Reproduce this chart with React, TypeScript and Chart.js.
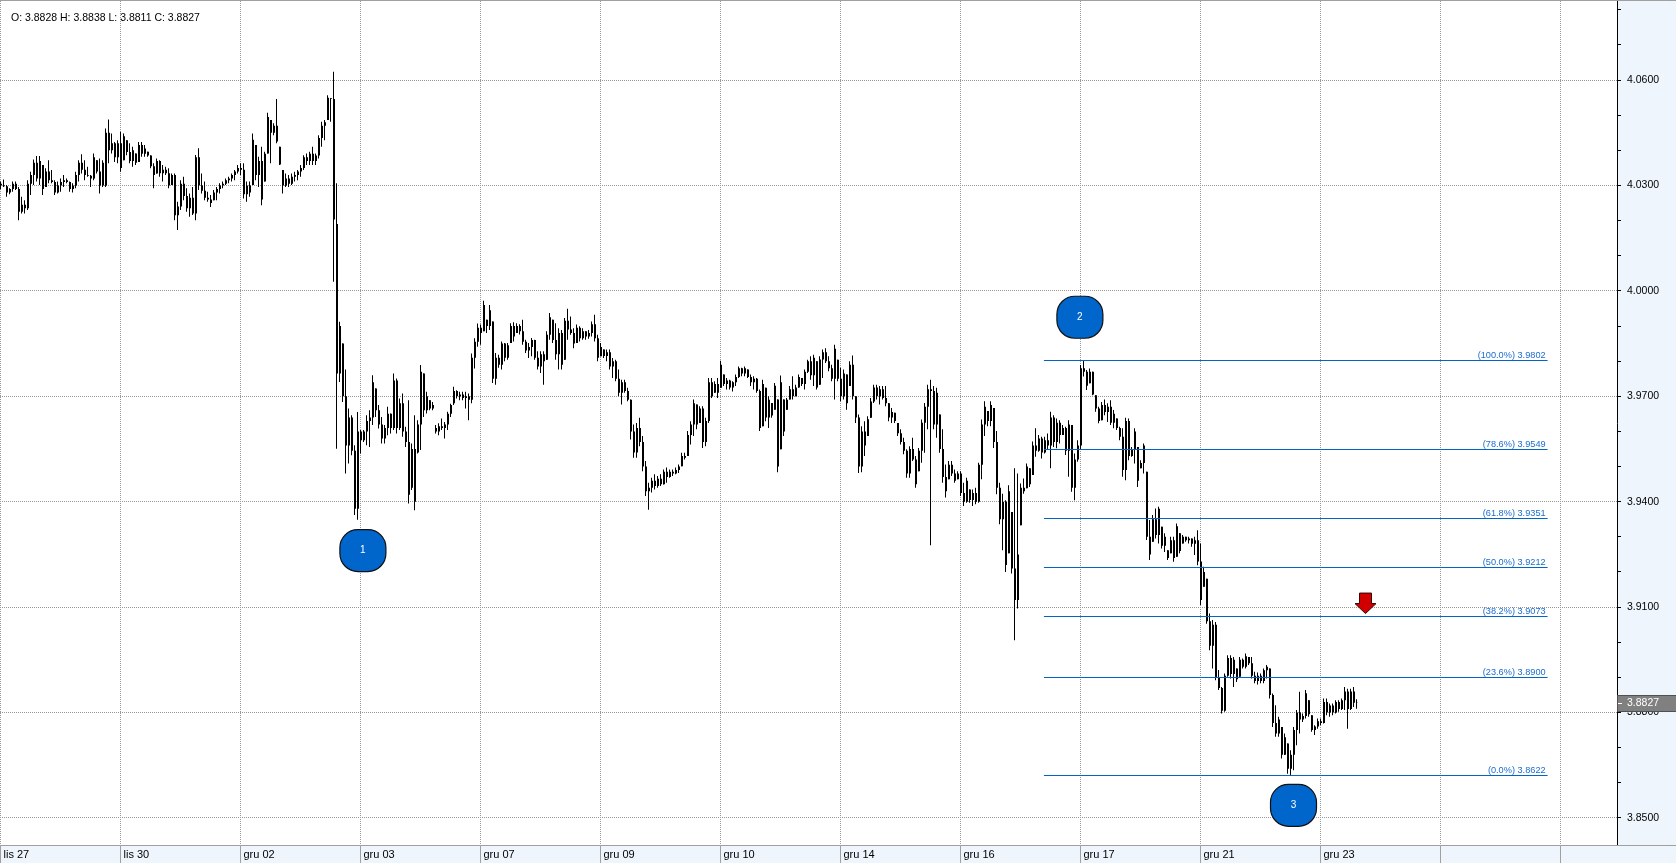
import React, { useEffect, useRef } from 'react';
import { Chart, registerables } from 'chart.js';

Chart.register(...registerables);

// ---------- DATA (prices as pips above 3.8000) ----------
const BASE_PRICE = 3.8;
const PIP = 0.0001;

const highPips = [
  2311,2317,2301,2292,2311,2311,2296,2268,2258,2315,
  2339,2374,2384,2384,2358,2349,2372,2344,2315,2311,
  2320,2330,2320,2311,2306,2339,2372,2389,2372,2353,
  2330,2391,2372,2377,2372,2462,2488,2448,2424,2429,
  2453,2448,2429,2420,2410,2391,2424,2424,2415,2396,
  2386,2363,2377,2372,2358,2353,2349,2334,2334,2254,
  2315,2325,2292,2277,2296,2387,2406,2334,2311,2282,
  2273,2287,2296,2306,2311,2320,2325,2334,2344,2358,
  2363,2363,2311,2311,2448,2415,2382,2410,2396,2507,
  2486,2477,2546,2410,2344,2334,2330,2334,2339,2344,
  2358,2386,2391,2396,2410,2391,2443,2481,2486,2557,
  2548,2624,
  2306,1912,1850,1776,1665,1646,1561,1655,1604,1604,
  1646,1660,1760,1722,1675,1641,1618,1670,1651,1765,
  1751,1694,1708,1613,1689,1566,1646,1632,1789,1765,
  1713,1689,1684,1618,1623,1637,1627,1656,1679,1727,
  1717,1713,1713,1713,1708,1822,1865,1907,
  1904,1972,1918,1960,1913,1823,1818,1856,1852,1852,
  1908,1911,1908,1905,1918,1861,1852,1866,1861,1828,
  1828,1828,1885,1937,1918,1908,1894,1889,1923,1949,
  1927,1894,1904,1899,1894,1885,1889,1913,1932,1875,
  1852,1833,1833,1833,1809,1804,1776,1747,1747,1724,
  1691,1620,1624,1639,1587,1516,1454,1468,1478,1473,
  1478,1492,1497,1492,1492,1497,1506,1539,1539,1601,
  1629,1691,1677,1672,1672,1639,1752,1752,1743,1752,
  1801,1762,1752,1747,1743,1762,1785,1781,1785,1776,
  1762,1757,1752,1719,1747,1724,1700,1681,1738,1691,
  1759,1691,1695,1729,1757,1733,1762,1752,1776,1804,
  1814,1818,1800,1814,1833,1837,1814,1790,1847,1804,
  1781,1776,1762,1800,1816,1700,1648,1615,1629,1643,
  1695,1733,1733,1729,1729,1729,1681,1667,1653,1624,
  1606,1582,1549,1558,1582,1530,1553,1634,1681,1733,
  1747,1729,1724,1648,1606,1506,1516,1516,1492,1487,
  1487,1454,1468,1435,1435,1440,1511,1634,1686,1658,
  1686,1667,1601,1454,
  1423,1404,1447,1371,1495,1480,1452,1466,1509,1495,
  1571,1609,1590,1585,1585,1594,1656,1646,1637,1632,
  1618,1613,1632,1618,1537,1575,1789,1803,1775,1779,
  1770,1703,1670,1684,1691,1680,1689,1661,1637,1613,
  1609,1639,1637,1556,1609,1556,1518,1566,1485,1348,
  1362,1381,1386,1329,1310,1262,1300,1300,1338,1310,
  1305,1300,1300,1295,1300,1319,1281,1215,1181,1082,
  1063,1058,921,873,911,963,963,958,925,958,
  954,968,958,958,916,914,911,925,935,925,
  854,821,788,759,740,712,693,759,807,859,
  797,864,835,792,764,783,783,840,840,826,
  826,835,835,840,873,868,868,873,838,
];

const lowPips = [
  2289,2296,2268,2275,2282,2287,2201,2220,2220,2230,
  2273,2301,2311,2301,2273,2296,2306,2306,2273,2277,
  2282,2296,2306,2282,2280,2292,2311,2334,2315,2325,
  2296,2315,2334,2277,2296,2296,2363,2391,2367,2363,
  2339,2372,2386,2363,2353,2358,2367,2382,2382,2382,
  2349,2292,2334,2325,2311,2330,2292,2301,2201,2173,
  2230,2258,2225,2211,2216,2201,2287,2277,2258,2254,
  2239,2258,2258,2277,2292,2301,2306,2311,2315,2334,
  2330,2263,2254,2268,2301,2315,2296,2244,2311,2391,
  2363,2443,2420,2358,2277,2296,2296,2301,2311,2315,
  2325,2344,2358,2358,2358,2358,2377,2410,2429,2486,
  2481,2026,
  1551,1741,1684,1480,1509,1532,1362,1349,1537,1570,
  1561,1556,1618,1641,1608,1566,1566,1589,1594,1604,
  1594,1604,1585,1556,1395,1433,1376,1537,1547,1641,
  1651,1660,1660,1594,1589,1604,1580,1604,1641,1675,
  1694,1689,1689,1665,1632,1680,1779,1841,
  1847,1885,1880,1889,1738,1733,1781,1776,1800,1804,
  1852,1856,1880,1876,1847,1823,1809,1814,1804,1776,
  1766,1733,1804,1861,1852,1804,1776,1776,1804,1861,
  1875,1837,1852,1856,1861,1861,1864,1870,1856,1800,
  1814,1809,1800,1776,1752,1743,1700,1677,1710,1686,
  1577,1525,1525,1558,1487,1416,1377,1426,1435,1440,
  1445,1449,1454,1468,1473,1478,1482,1501,1520,1530,
  1563,1587,1606,1624,1553,1558,1624,1695,1710,1695,
  1724,1729,1719,1719,1714,1729,1752,1757,1757,1752,
  1729,1719,1710,1601,1615,1629,1610,1639,1662,1484,
  1549,1587,1662,1691,1691,1700,1724,1729,1719,1766,
  1747,1729,1719,1733,1752,1795,1771,1743,1691,1743,
  1686,1691,1662,1729,1691,1624,1482,1484,1530,1587,
  1639,1681,1691,1677,1691,1672,1629,1624,1624,1587,
  1563,1535,1468,1468,1516,1440,1487,1511,1539,1606,
  1276,1606,1582,1539,1454,1412,1464,1473,1454,1464,
  1416,1388,1397,1397,1388,1393,1397,1464,1587,1615,
  1615,1553,1421,1336,
  1262,1200,1253,1196,1006,1096,1333,1423,1438,1442,
  1476,1528,1542,1523,1537,1547,1495,1556,1552,1566,
  1590,1533,1471,1428,1404,1514,1547,1756,1718,1737,
  1703,1656,1623,1632,1646,1627,1618,1609,1604,1575,
  1471,1461,1518,1528,1509,1442,1495,1480,1291,1234,
  1286,1295,1281,1267,1257,1234,1253,1229,1243,1253,
  1281,1286,1281,1272,1248,1219,1106,1158,1053,977,
  925,892,864,797,802,902,897,873,887,902,
  925,925,935,897,883,880,883,883,897,840,
  759,731,731,669,679,626,622,636,707,740,
  773,783,788,745,736,754,764,769,792,788,
  792,797,802,807,807,754,807,816,811,
];

const openPips = [
  2305,2300,2298,2280,2290,2305,2290,2225,2245,2235,
  2305,2330,2365,2320,2358,2296,2340,2315,2310,2280,
  2300,2310,2315,2310,2290,2300,2330,2365,2345,2330,
  2328,2320,2372,2340,2300,2300,2450,2400,2420,2380,
  2420,2372,2429,2395,2370,2391,2367,2415,2390,2396,
  2385,2355,2334,2370,2335,2345,2335,2301,2330,2215,
  2240,2305,2270,2235,2265,2220,2380,2300,2285,2265,
  2260,2258,2280,2290,2300,2305,2315,2320,2330,2340,
  2350,2345,2275,2300,2301,2415,2330,2370,2311,2391,
  2486,2450,2470,2410,2344,2300,2320,2305,2325,2330,
  2340,2350,2380,2370,2390,2370,2385,2435,2470,2486,
  2548,2546,
  2190,1765,1850,1700,1560,1640,1545,1380,1600,1575,
  1600,1630,1640,1722,1660,1620,1580,1610,1650,1610,
  1745,1610,1680,1600,1570,1440,1550,1540,1620,1765,
  1660,1689,1665,1610,1600,1615,1610,1620,1650,1680,
  1715,1700,1705,1695,1700,1690,1810,1855,
  1895,1885,1918,1900,1913,1750,1810,1790,1850,1810,
  1852,1900,1880,1900,1885,1855,1830,1840,1860,1810,
  1785,1820,1804,1875,1918,1860,1820,1880,1804,1915,
  1890,1880,1852,1895,1865,1885,1870,1880,1905,1865,
  1814,1833,1815,1825,1785,1800,1750,1710,1740,1715,
  1690,1600,1540,1610,1570,1500,1430,1440,1460,1445,
  1465,1450,1485,1470,1485,1480,1490,1501,1530,1530,
  1590,1620,1677,1624,1665,1570,1630,1740,1710,1735,
  1724,1762,1735,1745,1725,1740,1755,1780,1765,1776,
  1755,1740,1750,1715,1615,1724,1640,1681,1662,1691,
  1549,1691,1662,1691,1720,1700,1725,1752,1735,1770,
  1800,1760,1800,1733,1805,1825,1800,1780,1750,1804,
  1750,1700,1762,1729,1790,1700,1640,1500,1600,1587,
  1639,1685,1725,1700,1720,1695,1680,1640,1653,1624,
  1595,1570,1545,1480,1550,1520,1487,1545,1625,1670,
  1720,1715,1620,1648,1550,1470,1464,1505,1480,1464,
  1480,1425,1400,1435,1405,1425,1400,1505,1620,1658,
  1630,1667,1570,1440,
  1350,1400,1253,1371,1210,1120,1333,1440,1438,1495,
  1476,1560,1545,1580,1540,1575,1560,1640,1570,1625,
  1590,1610,1545,1618,1440,1520,1560,1780,1770,1737,
  1770,1703,1665,1632,1675,1655,1670,1625,1637,1610,
  1585,1490,1630,1530,1550,1556,1495,1510,1485,1300,
  1286,1350,1305,1329,1275,1262,1253,1290,1243,1310,
  1281,1300,1290,1295,1280,1290,1230,1158,1181,1060,
  990,1050,900,870,805,905,955,910,925,902,
  950,930,958,940,905,890,905,890,920,925,
  850,770,740,759,680,712,640,680,750,800,
  780,790,835,792,750,760,775,770,830,800,
  820,800,830,810,835,860,810,860,828,
];

const closePips = [
  2300,2298,2280,2290,2305,2290,2225,2245,2235,2305,
  2330,2365,2320,2370,2290,2340,2315,2310,2280,2300,
  2310,2315,2310,2290,2300,2330,2365,2345,2330,2328,
  2320,2380,2340,2300,2365,2450,2400,2420,2380,2420,
  2350,2440,2395,2370,2400,2365,2415,2390,2405,2385,
  2355,2330,2370,2335,2345,2335,2300,2330,2215,2240,
  2305,2270,2235,2265,2220,2380,2300,2285,2265,2260,
  2250,2280,2290,2300,2305,2315,2320,2330,2340,2350,
  2345,2275,2300,2280,2430,2330,2370,2260,2390,2495,
  2450,2470,2425,2360,2300,2320,2305,2325,2330,2340,
  2350,2380,2370,2390,2370,2385,2435,2470,2480,2550,
  2546,2203,
  1765,1900,1700,1560,1640,1545,1380,1600,1575,1600,
  1630,1640,1740,1660,1620,1580,1610,1650,1610,1745,
  1610,1680,1600,1570,1420,1550,1400,1620,1770,1660,
  1700,1665,1675,1600,1615,1610,1620,1650,1675,1715,
  1700,1705,1695,1700,1690,1810,1855,1895,
  1880,1960,1900,1945,1750,1810,1790,1850,1810,1845,
  1900,1870,1900,1885,1855,1830,1840,1860,1810,1785,
  1820,1800,1875,1925,1860,1820,1880,1790,1915,1890,
  1880,1850,1895,1865,1885,1870,1880,1905,1865,1810,
  1840,1815,1825,1785,1800,1750,1710,1740,1715,1690,
  1600,1540,1610,1570,1500,1430,1440,1460,1445,1465,
  1450,1485,1470,1485,1480,1490,1500,1530,1525,1590,
  1620,1680,1620,1665,1570,1630,1740,1700,1735,1710,
  1790,1735,1745,1725,1740,1755,1780,1765,1780,1755,
  1740,1750,1715,1610,1735,1640,1690,1645,1730,1500,
  1740,1600,1690,1720,1700,1725,1755,1735,1770,1800,
  1760,1810,1725,1805,1825,1800,1780,1750,1835,1750,
  1700,1765,1680,1790,1700,1640,1500,1600,1560,1635,
  1685,1725,1700,1720,1695,1680,1640,1655,1630,1595,
  1570,1545,1480,1550,1520,1450,1545,1625,1670,1720,
  1715,1620,1710,1550,1470,1430,1505,1480,1460,1480,
  1425,1400,1460,1405,1425,1400,1505,1620,1670,1630,
  1675,1570,1440,1350,
  1400,1220,1430,1210,1120,1250,1440,1430,1500,1450,
  1560,1545,1580,1540,1575,1560,1640,1570,1625,1590,
  1610,1545,1620,1440,1520,1560,1780,1770,1730,1770,
  1705,1665,1630,1675,1655,1670,1625,1650,1610,1585,
  1490,1630,1530,1550,1600,1460,1510,1560,1300,1250,
  1350,1305,1380,1275,1300,1240,1290,1240,1330,1260,
  1300,1290,1295,1280,1290,1230,1120,1200,1060,990,
  1050,900,870,805,905,955,910,950,895,950,
  930,960,940,905,890,905,890,920,930,850,
  770,740,780,680,730,640,680,750,800,780,
  790,855,795,750,760,775,770,830,800,820,
  800,830,810,835,860,810,860,828,827,
];

// x-axis date ticks (bar index -> label)
const dateTickBars = [0, 40, 80, 120, 160, 200, 240, 280, 320, 360, 400, 440, 480, 520];
const dateTickLabels = ['lis 27', 'lis 30', 'gru 02', 'gru 03', 'gru 07', 'gru 09', 'gru 10', 'gru 14', 'gru 16', 'gru 17', 'gru 21', 'gru 23', '', ''];

// y-axis ticks
const priceTickValues = [
  3.85, 3.86, 3.87, 3.88, 3.89, 3.90, 3.91, 3.92, 3.93, 3.94, 3.95, 3.96,
  3.97, 3.98, 3.99, 4.00, 4.01, 4.02, 4.03, 4.04, 4.05, 4.06, 4.07, 4.08,
];
const priceLabelValues = [3.85, 3.88, 3.91, 3.94, 3.97, 4.0, 4.03, 4.06];

// Fibonacci retracement
const fibRatios = [100.0, 78.6, 61.8, 50.0, 38.2, 23.6, 0.0];
const fibPrices = [3.9802, 3.9549, 3.9351, 3.9212, 3.9073, 3.89, 3.8622];
const fibStartBar = 347.8;
const fibEndBar = 515.7;

// Wave markers
const markerLabels = ['1', '2', '3'];
const markerBars = [120.8, 359.8, 431.0];
const markerPrices = [3.9261, 3.9925, 3.8536];

// Sell arrow
const arrowBar = 455.0;
const arrowPrice = 3.914;

// ---------- LAYOUT / STYLE ----------
const CANVAS_W = 1676;
const CANVAS_H = 863;
const AXIS_W = 59;
const AXIS_H = 18;
const X_MIN = -1 / 6;
const X_MAX = X_MIN + (CANVAS_W - AXIS_W) / 3;
const Y_MAX = 4.0825;
const Y_MIN = 3.8423;
const BODY_SHIFT = 1 / 6;
const AXIS_BG = '#eef5fd';
const GRID_COLOR = '#9a9a9a';
const FIB_LINE = '#0064c8';
const FIB_TEXT = '#1a6ccf';
const FONT = 'Liberation Sans, Arial, sans-serif';

const toPrice = (p: number) => Math.round((BASE_PRICE + p * PIP) * 10000) / 10000;
const isMajor = (v: number) => priceLabelValues.some((m) => Math.abs(m - v) < 1e-6);

function roundedRectPath(ctx: CanvasRenderingContext2D, x: number, y: number, w: number, h: number, r: number) {
  ctx.beginPath();
  ctx.moveTo(x + r, y);
  ctx.arcTo(x + w, y, x + w, y + h, r);
  ctx.arcTo(x + w, y + h, x, y + h, r);
  ctx.arcTo(x, y + h, x, y, r);
  ctx.arcTo(x, y, x + w, y, r);
  ctx.closePath();
}

export default function App() {
  const canvasRef = useRef<HTMLCanvasElement>(null);

  useEffect(() => {
    document.body.style.margin = '0';
    document.body.style.overflow = 'hidden';
    const canvas = canvasRef.current;
    if (!canvas) return;

    const highs = highPips.map(toPrice);
    const lows = lowPips.map(toPrice);
    const opens = openPips.map(toPrice);
    const closes = closePips.map(toPrice);
    const last = closes.length - 1;

    const wickData = highs.map((h, i) => ({ x: i, y: [lows[i], h] }));
    const bodyData = opens.map((o, i) => ({
      x: i + BODY_SHIFT,
      y: [Math.min(o, closes[i]), Math.max(o, closes[i])],
    }));

    const fibDatasets = fibPrices.map((p) => ({
      type: 'line' as const,
      data: [
        { x: fibStartBar, y: p },
        { x: fibEndBar, y: p },
      ],
      borderColor: FIB_LINE,
      borderWidth: 1,
      pointRadius: 0,
      tension: 0,
      fill: false,
      order: 0,
      isFib: true,
      fibPrice: p,
    }));

    // snap horizontal fib lines onto pixel centres so they stay crisp
    const crispPlugin = {
      id: 'crispFib',
      beforeDatasetDraw(chart: any, args: any) {
        const ds = chart.data.datasets[args.index];
        chart.ctx.save();
        if (ds && ds.isFib) {
          const y = chart.scales.y.getPixelForValue(ds.fibPrice);
          const target = Math.floor(y) + 0.5;
          chart.ctx.translate(0, target - y);
        }
      },
      afterDatasetDraw(chart: any) {
        chart.ctx.restore();
      },
    };

    const decorPlugin = {
      id: 'decor',
      beforeDraw(chart: any) {
        const { ctx, chartArea: a, width, height } = chart;
        ctx.save();
        ctx.fillStyle = AXIS_BG;
        ctx.fillRect(0, 0, width, height);
        ctx.fillStyle = '#ffffff';
        ctx.fillRect(a.left, 0, a.right - a.left, a.bottom);
        ctx.restore();
      },
      afterDatasetsDraw(chart: any) {
        const { ctx } = chart;
        const xs = chart.scales.x;
        const ys = chart.scales.y;
        ctx.save();
        // fib labels
        ctx.font = `9.2px ${FONT}`;
        ctx.fillStyle = FIB_TEXT;
        ctx.textAlign = 'right';
        ctx.textBaseline = 'alphabetic';
        const xEnd = xs.getPixelForValue(fibEndBar) - 2;
        fibPrices.forEach((p, k) => {
          const y = Math.floor(ys.getPixelForValue(p));
          ctx.fillText(`(${fibRatios[k].toFixed(1)}%) ${p.toFixed(4)}`, xEnd, y - 2.5);
        });
        // wave markers
        markerLabels.forEach((lab, k) => {
          const cx = xs.getPixelForValue(markerBars[k]);
          const cy = ys.getPixelForValue(markerPrices[k]);
          roundedRectPath(ctx, cx - 23, cy - 21, 46, 42, 18);
          ctx.fillStyle = '#0066cc';
          ctx.fill();
          ctx.lineWidth = 1.2;
          ctx.strokeStyle = '#101010';
          ctx.stroke();
          ctx.fillStyle = '#ffffff';
          ctx.font = `10px ${FONT}`;
          ctx.textAlign = 'center';
          ctx.textBaseline = 'middle';
          ctx.fillText(lab, cx, cy);
        });
        // arrow
        const ax = xs.getPixelForValue(arrowBar);
        const ay = ys.getPixelForValue(arrowPrice);
        ctx.beginPath();
        ctx.moveTo(ax - 6, ay);
        ctx.lineTo(ax + 6, ay);
        ctx.lineTo(ax + 6, ay + 10.5);
        ctx.lineTo(ax + 10.5, ay + 10.5);
        ctx.lineTo(ax, ay + 20.5);
        ctx.lineTo(ax - 10.5, ay + 10.5);
        ctx.lineTo(ax - 6, ay + 10.5);
        ctx.closePath();
        ctx.fillStyle = '#d10000';
        ctx.fill();
        ctx.lineWidth = 1;
        ctx.strokeStyle = '#3a0000';
        ctx.stroke();
        ctx.restore();
      },
      afterDraw(chart: any) {
        const { ctx, chartArea: a, width } = chart;
        const ys = chart.scales.y;
        ctx.save();
        // frame lines
        ctx.strokeStyle = '#a0a0a0';
        ctx.lineWidth = 1;
        ctx.beginPath();
        ctx.moveTo(0, 0.5);
        ctx.lineTo(width, 0.5);
        ctx.moveTo(0, a.bottom + 0.5);
        ctx.lineTo(width, a.bottom + 0.5);
        ctx.stroke();
        // last price tag
        const py = ys.getPixelForValue(closes[last]);
        const top = Math.round(py - 8.5);
        ctx.fillStyle = '#808080';
        ctx.fillRect(a.right + 1, top, width - a.right, 17);
        ctx.strokeStyle = '#505050';
        ctx.strokeRect(a.right + 0.5, top + 0.5, width - a.right, 16);
        ctx.strokeStyle = '#ffffff';
        ctx.beginPath();
        ctx.moveTo(a.right + 1, Math.round(py) + 0.5);
        ctx.lineTo(a.right + 5, Math.round(py) + 0.5);
        ctx.stroke();
        ctx.fillStyle = '#ffffff';
        ctx.font = `10.5px ${FONT}`;
        ctx.textAlign = 'left';
        ctx.textBaseline = 'middle';
        ctx.fillText(closes[last].toFixed(4), a.right + 10, py + 0.5);
        // OHLC header
        ctx.fillStyle = '#000000';
        ctx.textBaseline = 'alphabetic';
        ctx.fillText(
          `O: ${opens[last].toFixed(4)} H: ${highs[last].toFixed(4)} L: ${lows[last].toFixed(4)} C: ${closes[last].toFixed(4)}`,
          11,
          20.5
        );
        ctx.restore();
      },
    };

    const chart = new Chart(canvas, {
      type: 'bar',
      data: {
        datasets: [
          ...(fibDatasets as any[]),
          {
            type: 'bar' as const,
            data: bodyData as any,
            backgroundColor: '#000000',
            barThickness: 2,
            borderWidth: 0,
            grouped: false,
            inflateAmount: 0,
            order: 1,
          } as any,
          {
            type: 'bar' as const,
            data: wickData as any,
            backgroundColor: '#000000',
            barThickness: 1,
            borderWidth: 0,
            grouped: false,
            inflateAmount: 0,
            order: 2,
          } as any,
        ],
      },
      options: {
        responsive: false,
        animation: false,
        events: [],
        layout: { padding: { top: 1, left: 0, right: 0, bottom: 0 }, autoPadding: false } as any,
        plugins: {
          legend: { display: false },
          tooltip: { enabled: false },
          title: { display: false },
        },
        scales: {
          x: {
            type: 'linear',
            position: 'bottom',
            min: X_MIN,
            max: X_MAX,
            offset: false,
            afterBuildTicks: (s: any) => {
              s.ticks = dateTickBars.map((v) => ({ value: v }));
            },
            afterFit: (s: any) => {
              s.height = AXIS_H;
              s.paddingLeft = 0;
              s.paddingRight = 0;
            },
            ticks: {
              autoSkip: false,
              maxRotation: 0,
              minRotation: 0,
              align: 'start',
              labelOffset: 3,
              padding: -15,
              color: '#000000',
              font: { family: FONT, size: 11 },
              callback: (v: any) => {
                const k = dateTickBars.indexOf(Number(v));
                return k >= 0 ? dateTickLabels[k] : '';
              },
            },
            grid: {
              offset: false,
              color: GRID_COLOR,
              lineWidth: 1,
              borderDash: [1, 1],
              drawTicks: true,
              tickLength: AXIS_H,
              tickColor: '#a0a0a0',
              tickWidth: 1,
              tickBorderDash: [],
            },
            border: { display: false, dash: [1, 1] },
          } as any,
          y: {
            type: 'linear',
            position: 'right',
            min: Y_MIN,
            max: Y_MAX,
            beginAtZero: false,
            afterBuildTicks: (s: any) => {
              s.ticks = priceTickValues.map((v) => ({ value: v }));
            },
            afterFit: (s: any) => {
              s.width = AXIS_W;
              s.paddingTop = 0;
              s.paddingBottom = 0;
            },
            ticks: {
              autoSkip: false,
              padding: 6,
              color: '#000000',
              font: { family: FONT, size: 10.5 },
              callback: (v: any) => (isMajor(Number(v)) ? Number(v).toFixed(4) : ''),
            },
            grid: {
              color: (c: any) => (c.tick && isMajor(c.tick.value) ? GRID_COLOR : 'rgba(0,0,0,0)'),
              lineWidth: 1,
              borderDash: [1, 1],
              drawTicks: true,
              tickLength: 4,
              tickColor: '#000000',
              tickWidth: 1,
              tickBorderDash: [],
            },
            border: { display: true, color: '#000000', width: 1, dash: [1, 1] },
          } as any,
        },
      },
      plugins: [crispPlugin, decorPlugin],
    });

    return () => chart.destroy();
  }, []);

  return (
    <div style={{ width: CANVAS_W, height: CANVAS_H }}>
      <canvas ref={canvasRef} width={CANVAS_W} height={CANVAS_H} style={{ display: 'block', width: CANVAS_W, height: CANVAS_H }} />
    </div>
  );
}
